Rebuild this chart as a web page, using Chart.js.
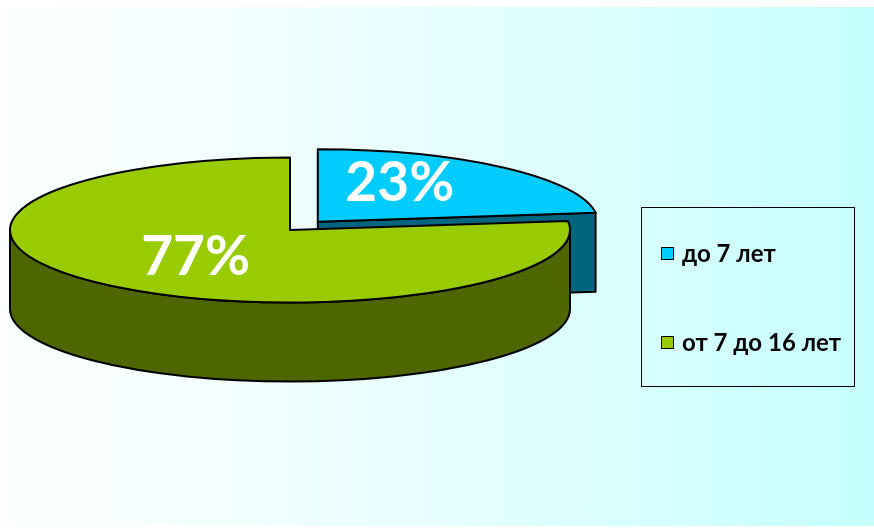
<!DOCTYPE html>
<html lang="ru">
<head>
    <meta charset="UTF-8">
    <title>Возраст</title>
    <script src="https://cdn.jsdelivr.net/npm/chart.js"></script>
    <style>
        html, body { margin: 0; padding: 0; background: #ffffff; }
        .wrap { position: relative; width: 874px; height: 529px; overflow: hidden; }
        .bg {
            position: absolute; left: 0; right: 0; top: 7px; bottom: 3px;
            background: linear-gradient(to right, #fdffff 0%, #eafeff 45%, #c6ffff 100%);
        }
        canvas { position: absolute; left: 0; top: 0; }
        .legend {
            position: absolute; left: 641px; top: 207px; width: 212px; height: 178px;
            border: 1.5px solid #000;
            font-family: Lato, "Open Sans", sans-serif; font-weight: bold; font-size: 24px; color: #000;
        }
        .legend .item { position: absolute; left: 19px; display: flex; align-items: center; white-space: nowrap; line-height: 28px; }
        .legend .box { width: 11px; height: 11px; border: 1.5px solid #000; margin-right: 8px; }
    </style>
</head>
<body>
<div class="wrap">
    <div class="bg"></div>
    <canvas id="pieChart" width="874" height="529"></canvas>
    <div class="legend" id="legend"></div>
</div>

<script>
    const labels = ['до 7 лет', 'от 7 до 16 лет'];
    const values = [23, 77];
    const topColors = ['#00ccff', '#99cc00'];
    const sideColors = ['#006680', '#4d6600'];

    // draws the pie as a tilted 3d disc, using the arc geometry chart.js computed
    const pie3d = {
        id: 'pie3d',
        beforeDatasetDraw(chart, args, opts) {
            const ctx = chart.ctx;
            const k = opts.tilt, D = opts.depth;
            const geo = args.meta.data.map((arc, i) => {
                const p = arc.getProps(['x', 'y', 'startAngle', 'endAngle', 'outerRadius']);
                const o = arc.options.offset || 0;
                const h = (p.startAngle + p.endAngle) / 2;
                return {
                    cx: p.x + Math.cos(h) * o,
                    cy: p.y + Math.sin(h) * o * k,
                    rx: p.outerRadius, ry: p.outerRadius * k,
                    a1: p.startAngle, a2: p.endAngle, h: h,
                    fill: arc.options.backgroundColor,
                    side: opts.sideColors[i],
                    border: arc.options.borderColor,
                    bw: arc.options.borderWidth
                };
            });

            ctx.save();
            ctx.lineJoin = 'round';

            geo.forEach(g => {
                ctx.fillStyle = g.side;
                ctx.strokeStyle = g.border;
                ctx.lineWidth = g.bw;
                // cut faces
                const faces = [];
                if (Math.cos(g.a1) < -1e-6) faces.push(g.a1);
                if (Math.cos(g.a2) > 1e-6) faces.push(g.a2);
                faces.forEach(a => {
                    const px = g.cx + g.rx * Math.cos(a), py = g.cy + g.ry * Math.sin(a);
                    ctx.beginPath();
                    ctx.moveTo(g.cx, g.cy);
                    ctx.lineTo(px, py);
                    ctx.lineTo(px, py + D);
                    ctx.lineTo(g.cx, g.cy + D);
                    ctx.closePath();
                    ctx.fill();
                    ctx.stroke();
                });
                // front rim
                [[-2 * Math.PI, -Math.PI], [0, Math.PI], [2 * Math.PI, 3 * Math.PI]].forEach(r => {
                    const s = Math.max(g.a1, r[0]), e = Math.min(g.a2, r[1]);
                    if (e <= s) return;
                    ctx.beginPath();
                    ctx.ellipse(g.cx, g.cy, g.rx, g.ry, 0, s, e, false);
                    ctx.lineTo(g.cx + g.rx * Math.cos(e), g.cy + g.ry * Math.sin(e) + D);
                    ctx.ellipse(g.cx, g.cy + D, g.rx, g.ry, 0, e, s, true);
                    ctx.closePath();
                    ctx.fill();
                    ctx.stroke();
                });
            });

            // top faces
            geo.forEach(g => {
                ctx.fillStyle = g.fill;
                ctx.strokeStyle = g.border;
                ctx.lineWidth = g.bw;
                ctx.beginPath();
                ctx.moveTo(g.cx, g.cy);
                ctx.ellipse(g.cx, g.cy, g.rx, g.ry, 0, g.a1, g.a2, false);
                ctx.closePath();
                ctx.fill();
                ctx.stroke();
            });

            // percentage labels
            const total = values.reduce((a, b) => a + b, 0);
            ctx.fillStyle = '#ffffff';
            ctx.font = opts.font;
            ctx.textAlign = 'center';
            ctx.textBaseline = 'middle';
            geo.forEach((g, i) => {
                const a = g.h + opts.labelShift[i] * Math.PI / 180;
                const r = g.rx * opts.labelRadius[i];
                const txt = Math.round(values[i] / total * 100) + '%';
                ctx.fillText(txt, g.cx + Math.cos(a) * r, g.cy + Math.sin(a) * r * k);
            });

            ctx.restore();
            return false;
        }
    };

    const ctx = document.getElementById('pieChart');
    const chart = new Chart(ctx, {
        type: 'pie',
        data: {
            labels: labels,
            datasets: [{
                data: values,
                backgroundColor: topColors,
                borderColor: '#000000',
                borderWidth: 2,
                offset: [42, 0],
                radius: 280
            }]
        },
        options: {
            responsive: false,
            animation: false,
            layout: { padding: { left: 0, right: 294, top: 0, bottom: 69 } },
            plugins: {
                legend: { display: false },
                tooltip: { enabled: false },
                pie3d: {
                    tilt: 0.259,
                    depth: 79,
                    sideColors: sideColors,
                    font: 'bold 55px Lato, "Open Sans", sans-serif',
                    labelRadius: [0.61, 0.51],
                    labelShift: [-12.7, 0]
                }
            }
        },
        plugins: [pie3d]
    });

    // legend from the chart's own labels and colours
    const legendEl = document.getElementById('legend');
    const itemTops = [31, 120];
    chart.data.labels.forEach((lab, i) => {
        const item = document.createElement('div');
        item.className = 'item';
        item.style.top = itemTops[i] + 'px';
        const box = document.createElement('span');
        box.className = 'box';
        box.style.background = chart.data.datasets[0].backgroundColor[i];
        const txt = document.createElement('span');
        txt.textContent = lab;
        item.appendChild(box);
        item.appendChild(txt);
        legendEl.appendChild(item);
    });
</script>
</body>
</html>
